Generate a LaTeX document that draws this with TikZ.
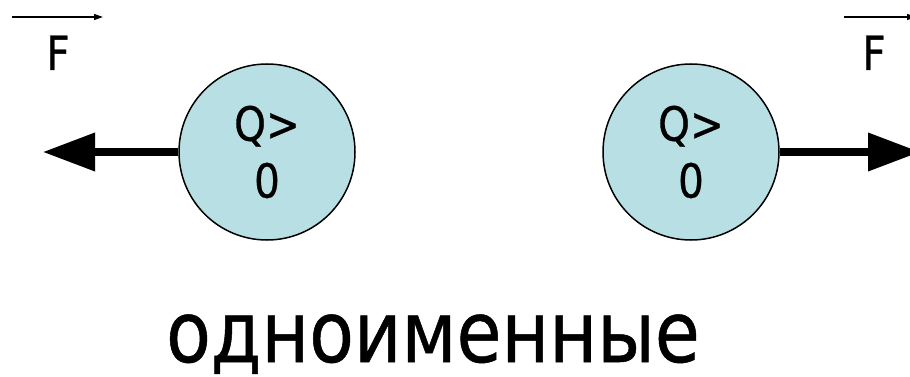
\documentclass[tikz,border=0pt]{standalone}
\usepackage{fontspec}
\setmainfont[FakeStretch=0.86,FakeBold=0.6]{DejaVu Sans}
\usetikzlibrary{arrows.meta}
\definecolor{ballfill}{RGB}{184,223,227}
\begin{document}
\begin{tikzpicture}[x=1pt,y=-1pt,
  charge/.style={circle,draw=black,line width=1.5pt,fill=ballfill,minimum size=176pt,inner sep=0pt,align=center,font=\fontsize{47}{57}\selectfont},
  force/.style={line width=7pt,-{Triangle[length=52pt,width=37pt]}},
  vecmark/.style={line width=1.2pt,-{Triangle[length=9pt,width=6pt]}},
  lbl/.style={inner sep=0pt,font=\fontsize{47}{47}\selectfont}]
\useasboundingbox (0,0) rectangle (910,377);
\clip (0,0) rectangle (910,377);
\node[charge] (q1) at (267,152) {Q>\\0};
\node[charge] (q2) at (691,152) {Q>\\0};
\coordinate (t1) at (43,152);
\coordinate (t2) at (920,152);
\draw[force] (q1.west) -- (t1);
\draw[force] (q2.east) -- (t2);
\node[lbl,anchor=base] (f1) at (58,70) {F};
\node[lbl,anchor=base] (f2) at (874,70) {F};
\coordinate (a1s) at (12,17);
\coordinate (a1e) at (103,17);
\coordinate (a2s) at (844,17);
\coordinate (a2e) at (916,17);
\draw[vecmark] (a1s) -- (a1e);
\draw[vecmark] (a2s) -- (a2e);
\node[inner sep=0pt,anchor=base,font=\fontsize{85}{85}\selectfont] (lab) at (433,362) {одноименные};
\end{tikzpicture}
\end{document}
